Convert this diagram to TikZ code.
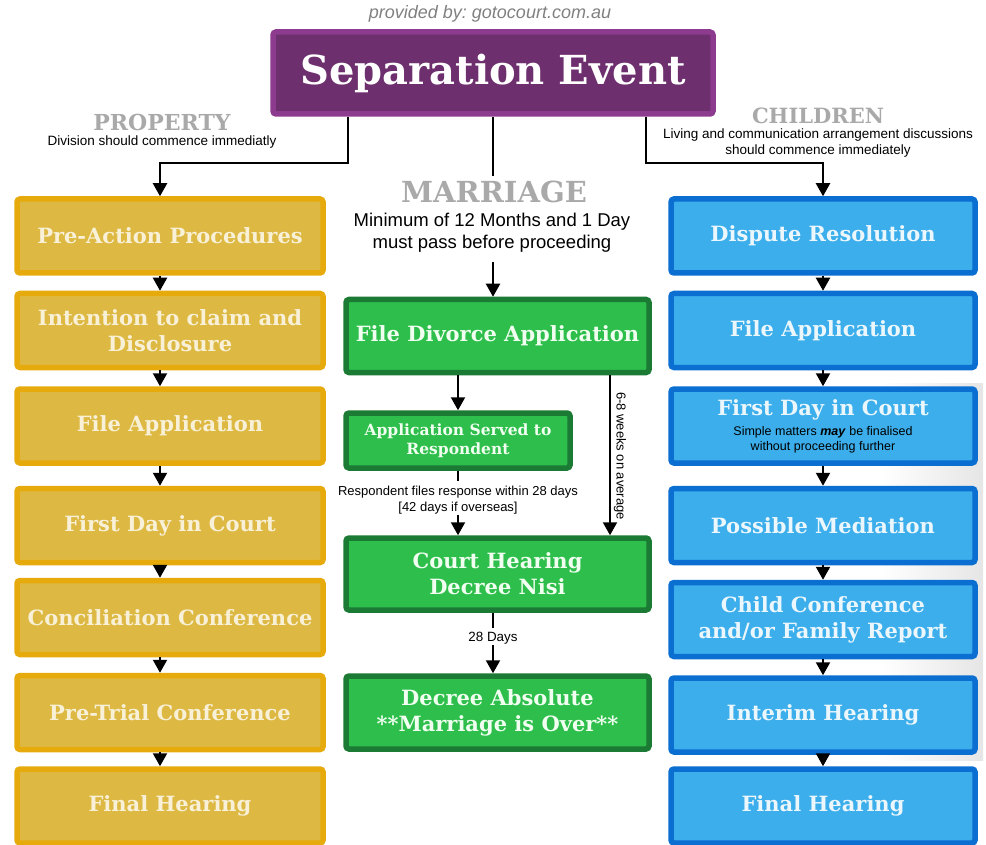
\documentclass[tikz,border=0pt]{standalone}
\usepackage{fontspec}
\setmainfont{DejaVu Serif}
\newfontfamily\sansfont{Liberation Sans}
\usetikzlibrary{arrows.meta}
\usetikzlibrary{positioning}
\frenchspacing

\definecolor{sepfill}{HTML}{6E2F6E}
\definecolor{sepline}{HTML}{8D3B8E}
\definecolor{propfill}{HTML}{DDB944}
\definecolor{propline}{HTML}{E6AA0C}
\definecolor{proptext}{HTML}{F8F1D8}
\definecolor{marfill}{HTML}{2DBE4B}
\definecolor{marline}{HTML}{1B7A33}
\definecolor{martext}{HTML}{F0FFF0}
\definecolor{kidfill}{HTML}{3BAEEB}
\definecolor{kidline}{HTML}{0A6FD1}
\definecolor{kidtext}{HTML}{ECF7FD}
\definecolor{headgray}{HTML}{A9A9A9}

\tikzset{
  box/.style={draw, line width=5.5pt, rounded corners=3pt, align=center, inner sep=0pt,
    font=\bfseries\fontsize{21}{26}\selectfont},
  sepbox/.style={box, draw=sepline, fill=sepfill, text=white,
    minimum width=440pt, minimum height=82pt, font=\bfseries\fontsize{40}{48}\selectfont},
  propbox/.style={box, draw=propline, fill=propfill, text=proptext,
    minimum width=306pt, minimum height=74pt},
  marbox/.style={box, draw=marline, fill=marfill, text=martext,
    minimum width=303pt, minimum height=73pt},
  kidbox/.style={box, draw=kidline, fill=kidfill, text=kidtext,
    minimum width=304pt, minimum height=74pt},
  head/.style={text=headgray, font=\bfseries\fontsize{22}{24}\selectfont},
  note/.style={align=center, inner sep=1pt, font=\sansfont\fontsize{13.5}{16}\selectfont},
  flow/.style={line width=2.2pt, -{Triangle[width=14pt,length=13pt]}},
  link/.style={line width=2.2pt},
}

\begin{document}
\begin{tikzpicture}[x=1pt, y=-1pt]
\useasboundingbox (0,0) rectangle (986,845);
\shade[left color=white, right color=black!10] (880,383) rectangle (983,760);

% top
\node[sepbox] (sep) at (493,73) {Separation Event};
\node[note, text=gray, font=\sansfont\itshape\fontsize{18}{20}\selectfont] (src) at (490,14) {provided by: gotocourt.com.au};

% headings
\node[head] (prop) at (162,122) {PROPERTY};
\node[note] (propnote) at (162,142) {Division should commence immediatly};
\node[head, font=\bfseries\fontsize{21}{24}\selectfont] (kids) at (818,116) {CHILDREN};
\node[note] (kidsnote) at (818,143.5) {Living and communication arrangement discussions\\should commence immediately};
\node[head, font=\bfseries\fontsize{29}{32}\selectfont] (marr) at (494,192) {MARRIAGE};
\node[note, font=\sansfont\fontsize{18.5}{22}\selectfont] (marrnote) at (492,233) {Minimum of 12 Months and 1 Day\\must pass before proceeding};

% property
\node[propbox] (p1) at (170,236) {Pre-Action Procedures};
\node[propbox] (p2) at (170,330.5) {Intention to claim and\\Disclosure};
\node[propbox] (p3) at (170,426) {File Application};
\node[propbox] (p4) at (170,525.5) {First Day in Court};
\node[propbox] (p5) at (170,617.5) {Conciliation Conference};
\node[propbox] (p6) at (170,712.5) {Pre-Trial Conference};
\node[propbox] (p7) at (170,806) {Final Hearing};

% marriage
\node[marbox] (m1) at (497.5,336) {File Divorce Application};
\node[marbox, minimum width=224pt, minimum height=55pt,
  font=\bfseries\fontsize{15.5}{19}\selectfont] (m2) at (458,440.5) {Application Served to\\Respondent};
\node[marbox, minimum height=72pt] (m3) at (497.5,574) {Court Hearing\\Decree Nisi};
\node[marbox] (m4) at (497.5,712.5) {Decree Absolute\\**Marriage is Over**};

% children
\node[kidbox] (c1) at (823,236) {Dispute Resolution};
\node[kidbox] (c2) at (823,330.5) {File Application};
\node[kidbox] (c3) at (823,426) {First Day in Court\\[-6pt]
  {\sansfont\mdseries\color{black}\fontsize{12.5}{15}\selectfont Simple matters \textbf{\textit{may}} be finalised}\\[-11pt]
  {\sansfont\mdseries\color{black}\fontsize{12.5}{15}\selectfont without proceeding further}};
\node[kidbox] (c4) at (823,525.5) {Possible Mediation};
\node[kidbox] (c5) at (823,619.5) {Child Conference\\and/or Family Report};
\node[kidbox] (c6) at (823,715) {Interim Hearing};
\node[kidbox] (c7) at (823,806) {Final Hearing};

% connectors
\coordinate (lx) at (160,0);
\coordinate (pl) at (348,163);
\coordinate (cl) at (646,163);
\coordinate (mt) at (493,176);
\coordinate (mb) at (493,262);
\coordinate (wx) at (610,0);
\coordinate (rs) at (458,481);
\coordinate (dy) at (493,628);

\draw[flow] (sep.south -| pl) -- (pl) -| (p1.north -| lx);
\draw[flow] (sep.south -| cl) -- (cl) -| (c1.north);
\draw[link] (sep.south -| mt) -- (mt);
\draw[flow] (mb) -- (m1.north -| mb);

\foreach \a/\b in {p1/p2,p2/p3,p3/p4,p4/p5,p5/p6,p6/p7}
  \draw[flow] (\a.south -| lx) -- (\b.north -| lx);
\foreach \a/\b in {c1/c2,c2/c3,c3/c4,c4/c5,c5/c6,c6/c7}
  \draw[flow] (\a.south) -- (\b.north);

\draw[flow] (m1.south -| m2) -- (m2.north);
\draw[link] (m2.south) -- (rs);
\node[note, font=\sansfont\fontsize{13}{16}\selectfont] (resp) at (458,500) {Respondent files response within 28 days\\{[}42 days if overseas{]}};
\draw[flow] (resp.south) -- (m3.north -| resp);
\draw[flow] (m1.south -| wx) -- (m3.north -| wx);
\node[note, rotate=-90, font=\sansfont\fontsize{13}{15}\selectfont] (wk) at (620,456) {6-8 weeks on average};
\draw[link] (m3.south -| dy) -- (dy);
\node[note, font=\sansfont\fontsize{13.4}{15}\selectfont] (d28) at (493,638) {28 Days};
\draw[flow] (d28.south) -- (m4.north -| d28);
\end{tikzpicture}
\end{document}
